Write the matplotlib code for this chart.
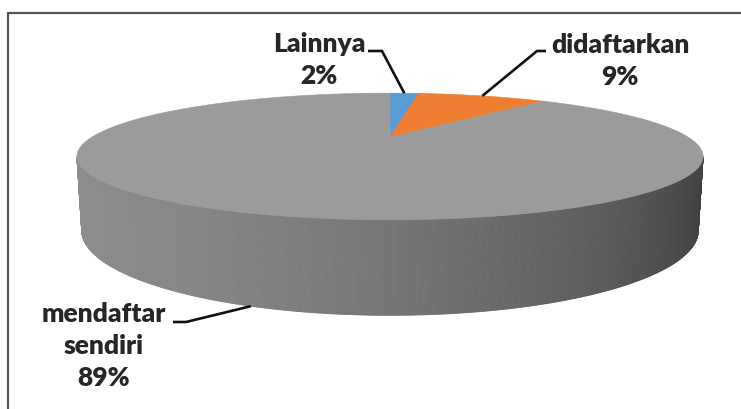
import numpy as np
import matplotlib
matplotlib.use("Agg")
import matplotlib.pyplot as plt
from matplotlib.patches import Polygon
from matplotlib.colors import to_rgb

# Data
categories = ["Lainnya", "didaftarkan", "mendaftar sendiri"]
label_text = ["Lainnya", "didaftarkan", "mendaftar\nsendiri"]
values = [2, 9, 89]
colors = ["#5B9BD5", "#ED7D31", "#9B9B9B"]

W, H = 741, 409
fig = plt.figure(figsize=(W / 100, H / 100), dpi=100)
ax = fig.add_axes([0, 0, 1, 1])
ax.set_xlim(0, W)
ax.set_ylim(H, 0)
ax.axis("off")

# Perspective camera for the 3-D pie (unit-radius disc)
ELEV = np.radians(11.1)
DIST = 3.195
SCALE = 952
CX, CY = 390, 137
THICK = 0.235


def project(u, v, z):
    depth = DIST + v * np.cos(ELEV) - z * np.sin(ELEV)
    up = v * np.sin(ELEV) + z * np.cos(ELEV)
    return CX + SCALE * u / depth, CY - SCALE * up / depth


vals = np.array(values, dtype=float)
frac = vals / vals.sum()
bounds = np.radians(90 - 360 * np.concatenate([[0], np.cumsum(frac)]))


def slice_at(t):
    # index of slice containing angle t (clockwise from 12 o'clock)
    a = (np.radians(90) - t) % (2 * np.pi)
    edges = np.radians(360 * np.cumsum(frac))
    return int(np.searchsorted(edges, a, side="right").clip(0, len(frac) - 1))


def shade(u):
    return 0.757 - 0.265 * u - 0.105 * u ** 2


# Side wall, drawn as thin strips across the front-facing part
limit = -1.0 / (DIST * np.cos(ELEV))
ts = np.linspace(-np.pi, 0, 720)
ts = ts[np.sin(ts) < limit + 0.01]
for t0, t1 in zip(ts[:-1], ts[1:]):
    tm = 0.5 * (t0 + t1)
    base = np.array(to_rgb(colors[slice_at(tm)]))
    c = np.clip(base * shade(np.cos(tm)), 0, 1)
    pts = [project(np.cos(t0), np.sin(t0), 0), project(np.cos(t1), np.sin(t1), 0),
           project(np.cos(t1), np.sin(t1), -THICK), project(np.cos(t0), np.sin(t0), -THICK)]
    ax.add_patch(Polygon(pts, closed=True, facecolor=c, edgecolor=c, linewidth=0.6))

# Top face wedges
for i in range(len(values)):
    t = np.linspace(bounds[i], bounds[i + 1], 300)
    xs, ys = project(np.cos(t), np.sin(t), 0 * t)
    cx0, cy0 = project(0.0, 0.0, 0.0)
    pts = np.column_stack([np.r_[cx0, xs], np.r_[cy0, ys]])
    ax.add_patch(Polygon(pts, closed=True, facecolor=colors[i], edgecolor=colors[i], linewidth=0.4))

# Data labels with leader lines
text_pos = [(319, 60), (620, 61), (104, 346)]
elbows = [[(368, 51), (382, 51)], [(546, 51), (537, 51)], [(173, 322), (186, 322)]]
txt_color = "#262626"
for i in range(len(values)):
    tm = 0.5 * (bounds[i] + bounds[i + 1])
    z = 0.0 if np.sin(tm) > 0 else -THICK
    ax_, ay_ = project(np.cos(tm), np.sin(tm), z)
    path = elbows[i] + [(ax_, ay_)]
    px, py = zip(*path)
    ax.plot(px, py, color="#111111", lw=1.9, solid_capstyle="butt", solid_joinstyle="miter")
    ax.text(text_pos[i][0], text_pos[i][1], f"{label_text[i]}\n{values[i]}%",
            ha="center", va="center", fontsize=19, fontweight="heavy",
            family=["Lato", "DejaVu Sans"], color=txt_color, linespacing=1.38,
            multialignment="center")

# Frame lines along the top and left
ax.plot([7, W], [13, 13], color="#555555", lw=1.6, solid_capstyle="butt")
ax.plot([7.5, 7.5], [13, H], color="#555555", lw=1.6, solid_capstyle="butt")

fig.savefig("out.png", dpi=100)
